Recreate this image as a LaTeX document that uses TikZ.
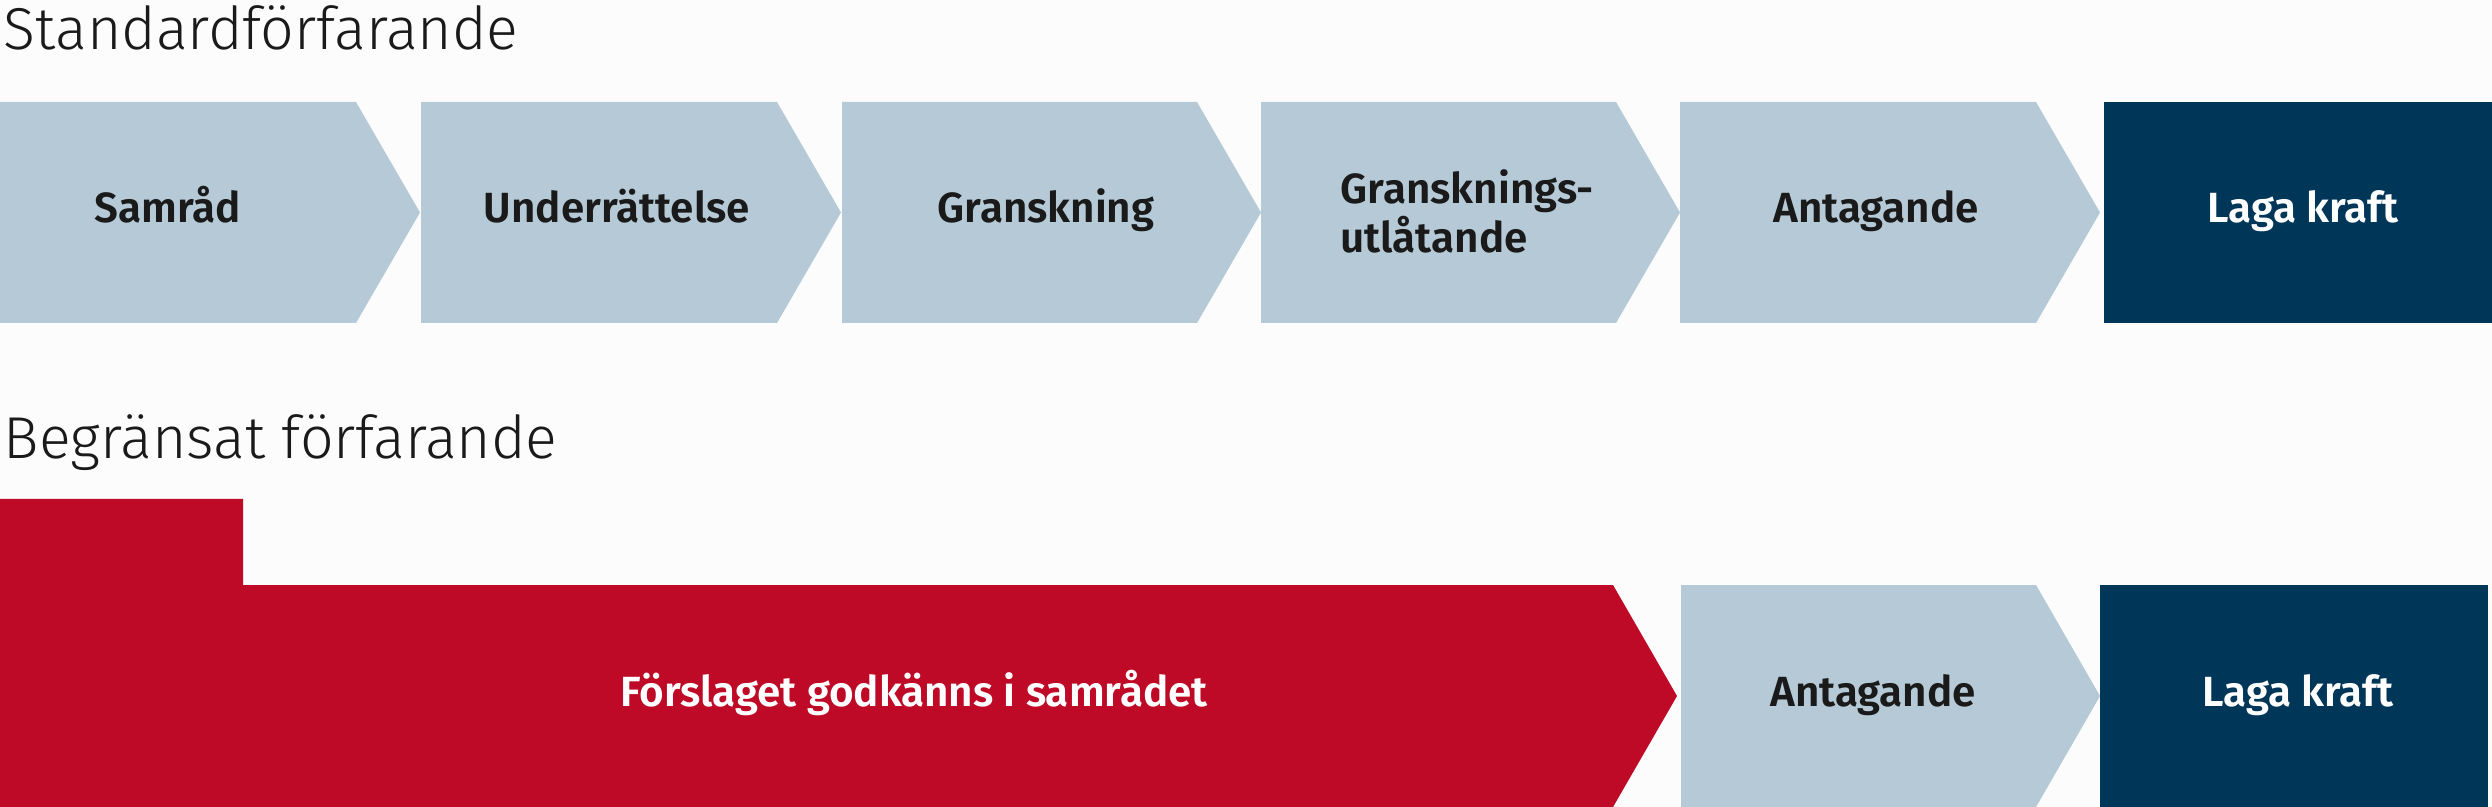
\documentclass[tikz,border=0pt]{standalone}
\usepackage{fontspec}
\setmainfont{Fira Sans}
\newfontfamily\titlefont{Fira Sans Light}
\newfontfamily\labelfont{Fira Sans SemiBold}
\usetikzlibrary{positioning}
\definecolor{stegblue}{RGB}{181,202,214}
\definecolor{kraftblue}{RGB}{0,54,88}
\definecolor{samradred}{RGB}{190,10,38}
\definecolor{textgray}{RGB}{26,26,26}
\definecolor{bggray}{RGB}{252,252,252}

\begin{document}
\begin{tikzpicture}[x=0.01cm,y=-0.01cm,
                    rubrik/.style={anchor=base west,inner sep=0pt,text=textgray,
                                   font=\titlefont\fontsize{16.8}{18}\selectfont},
                    steg/.style={anchor=base,inner sep=0pt,text=textgray,
                                 font=\labelfont\fontsize{12}{14.2}\selectfont},
                    vitsteg/.style={steg,text=white},
                    stegbox/.style={fill=stegblue},
                    kraftbox/.style={fill=kraftblue},
                    samradbox/.style={fill=samradred}]
                \fill[bggray] (0,0) rectangle (2492,807);
                \useasboundingbox (0,0) rectangle (2492,807);

                % standardforfarande
                \node[rubrik] (standard) at (3,50) {Standardförfarande};
                \fill[stegbox] (0,102) -- (356,102) -- (420,212.5) -- (356,323) -- (0,323) -- cycle;
                \fill[stegbox] (421,102) -- (777,102) -- (841,212.5) -- (777,323) -- (421,323) -- cycle;
                \fill[stegbox] (842,102) -- (1197,102) -- (1261,212.5) -- (1197,323) -- (842,323) -- cycle;
                \fill[stegbox] (1261,102) -- (1616,102) -- (1680,212.5) -- (1616,323) -- (1261,323) -- cycle;
                \fill[stegbox] (1680,102) -- (2036,102) -- (2100,212.5) -- (2036,323) -- (1680,323) -- cycle;
                \fill[kraftbox] (2104,102) rectangle (2492,323);

                \node[steg] (samrad) at (168,223) {Samråd};
                \node[steg] (underrattelse) at (617,223) {Underrättelse};
                \node[steg] (granskning) at (1046,223) {Granskning};
                \node[steg,anchor=base west,align=left] (utlatande) at (1340,253)
                    {Gransknings-\\utlåtande};
                \node[steg] (antagande) at (1876,223) {Antagande};
                \node[vitsteg] (kraft) at (2303,223) {Laga kraft};

                % begransat forfarande
                \node[rubrik] (begransat) at (3,459) {Begränsat förfarande};
                \fill[samradbox] (0,499) -- (243,499) -- (243,585) -- (1613,585) -- (1677,696)
                    -- (1613,807) -- (0,807) -- cycle;
                \fill[stegbox] (1681,585) -- (2036,585) -- (2100,696) -- (2036,807) -- (1681,807) -- cycle;
                \fill[kraftbox] (2100,585) rectangle (2488,807);

                \node[vitsteg] (forslag) at (914,706) {Förslaget godkänns i samrådet};
                \node[steg] (antagande2) at (1873,706) {Antagande};
                \node[vitsteg] (kraft2) at (2298,706) {Laga kraft};
            \end{tikzpicture}
\end{document}
